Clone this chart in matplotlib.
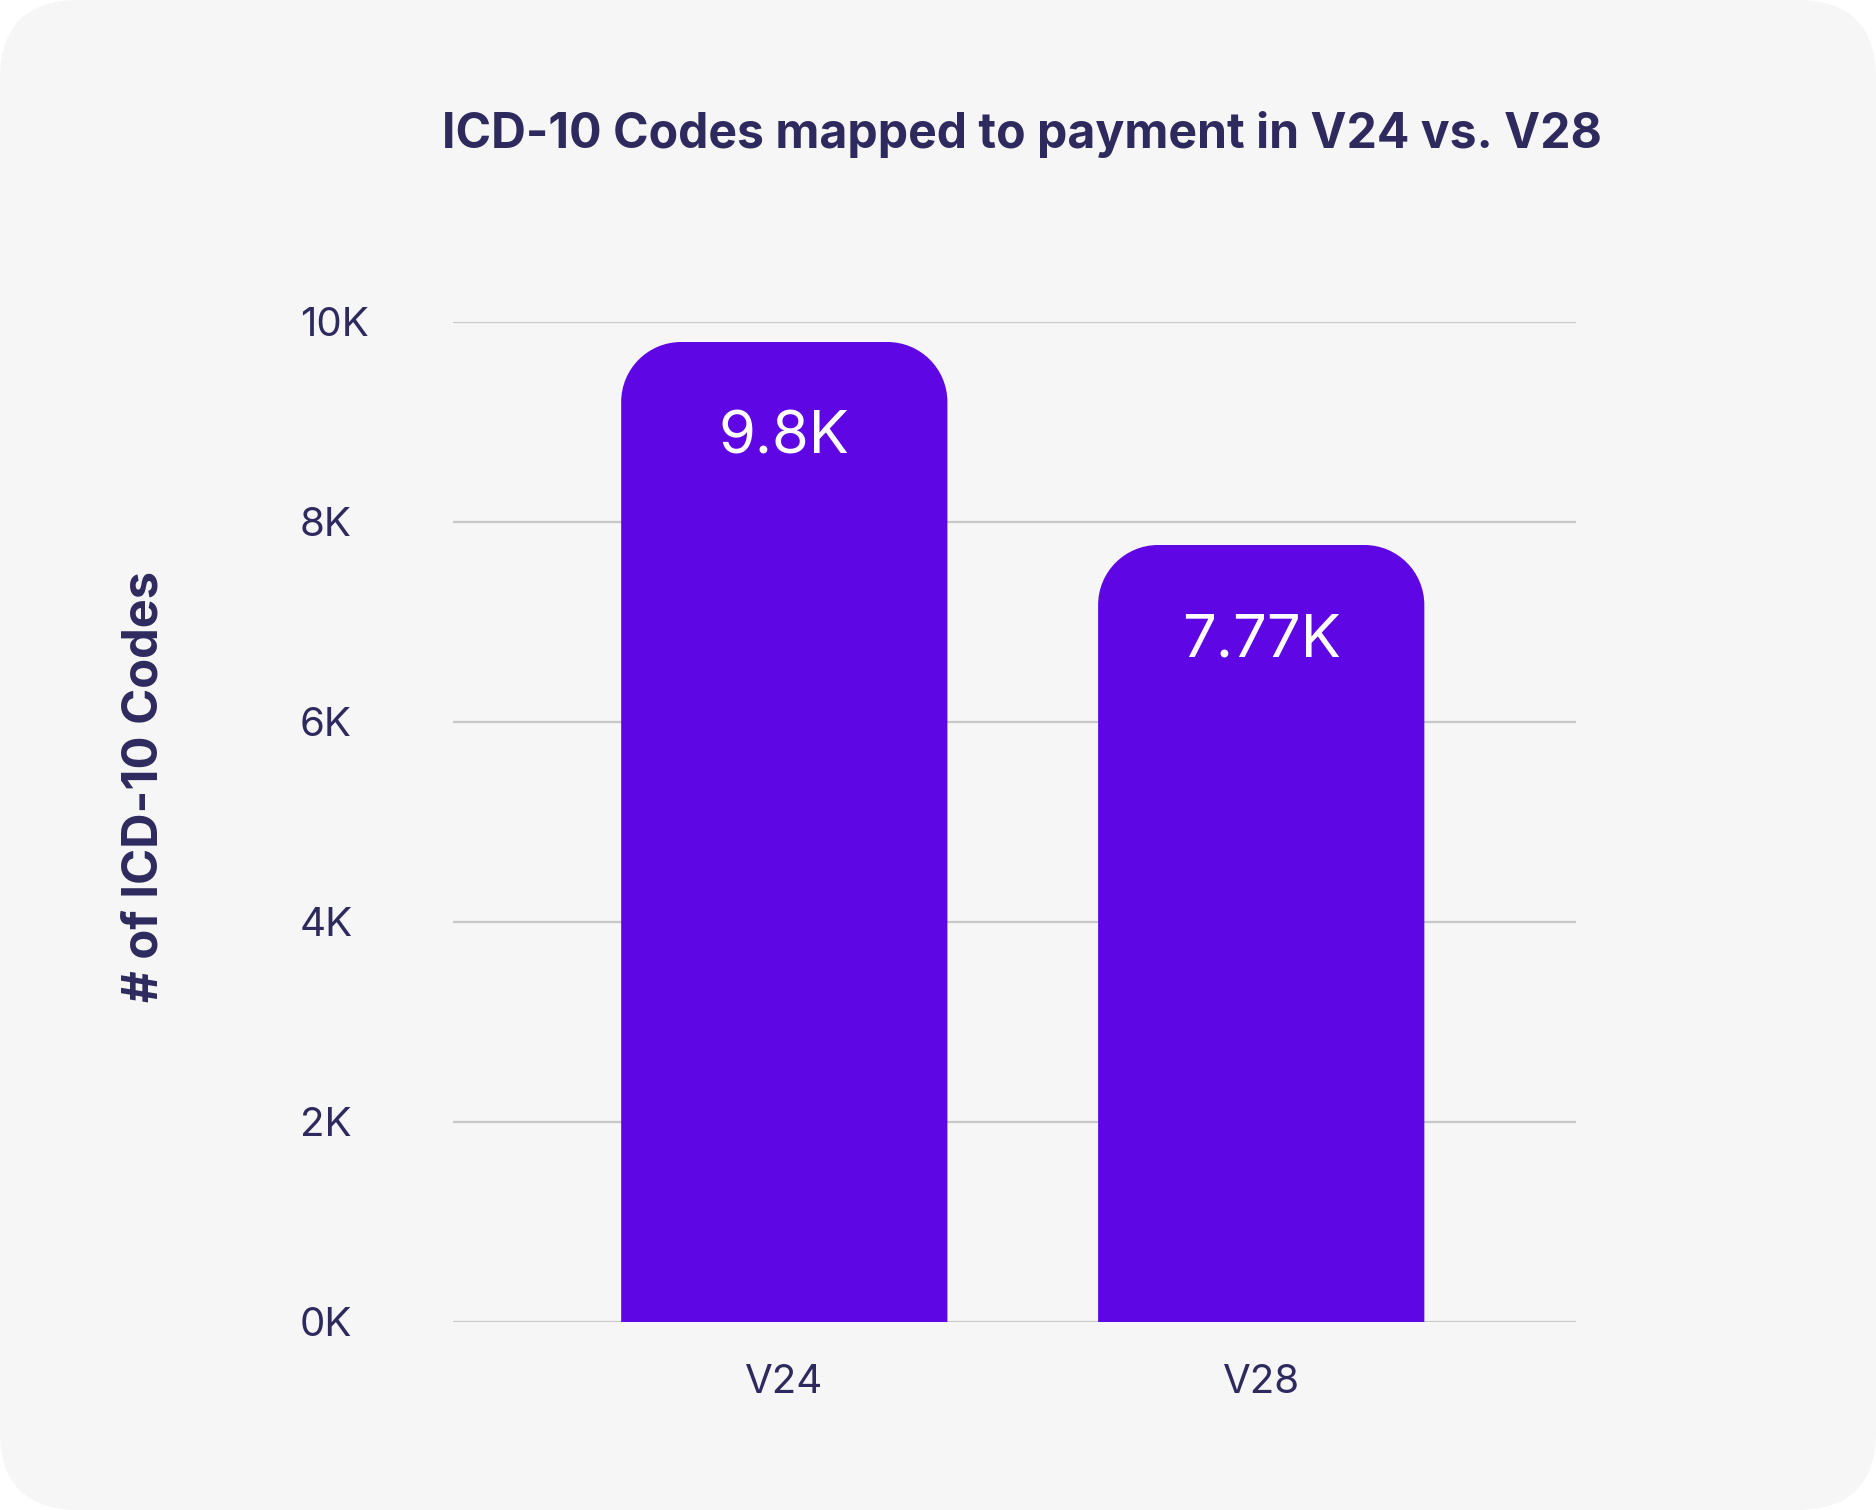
import matplotlib
matplotlib.use("Agg")
import matplotlib.pyplot as plt
from matplotlib.patches import FancyBboxPatch, PathPatch
from matplotlib.path import Path
import numpy as np

categories = ["V24", "V28"]
values = [9800, 7770]
value_labels = ["9.8K", "7.77K"]
yticks = [0, 2000, 4000, 6000, 8000, 10000]
ytick_labels = ["0K", "2K", "4K", "6K", "8K", "10K"]
title = "ICD-10 Codes mapped to payment in V24 vs. V28"
ylabel = "# of ICD-10 Codes"

TEXT = "#2e2a5e"
BAR = "#5f06e4"
BG = "#f6f6f6"
FONT = "Inter"

W, H = 1876, 1510
fig = plt.figure(figsize=(W / 100, H / 100), dpi=100)
fig.patch.set_facecolor("white")
bg = FancyBboxPatch((0.0, 0.0), 1.0, 1.0, transform=fig.transFigure,
                    boxstyle="round,pad=0,rounding_size=0.042",
                    mutation_aspect=W / H,
                    facecolor=BG, edgecolor="none", zorder=-10)
fig.patches.append(bg)

ax = fig.add_axes([453 / W, 188 / H, (1576 - 453) / W, (1322 - 322) / H])
ax.set_facecolor("none")
ax.set_xlim(-0.6946, 1.66)
ax.set_ylim(0, 10000)

bw = 0.684
# corner radius in pixels converted to data units
rpx = 60
rx = rpx / (ax.get_position().width * W) * (ax.get_xlim()[1] - ax.get_xlim()[0])
ry = rpx / (ax.get_position().height * H) * (ax.get_ylim()[1] - ax.get_ylim()[0])

def rounded_top_bar(xc, width, height):
    x0, x1 = xc - width / 2, xc + width / 2
    k = 0.5523
    verts = [
        (x0, 0), (x0, height - ry),
        (x0, height - ry + k * ry), (x0 + rx - k * rx, height), (x0 + rx, height),
        (x1 - rx, height),
        (x1 - rx + k * rx, height), (x1, height - ry + k * ry), (x1, height - ry),
        (x1, 0), (x0, 0),
    ]
    codes = [Path.MOVETO, Path.LINETO,
             Path.CURVE4, Path.CURVE4, Path.CURVE4,
             Path.LINETO,
             Path.CURVE4, Path.CURVE4, Path.CURVE4,
             Path.LINETO, Path.CLOSEPOLY]
    return Path(verts, codes)

for i, (v, lab) in enumerate(zip(values, value_labels)):
    p = PathPatch(rounded_top_bar(i, bw, v), facecolor=BAR, edgecolor="none", zorder=3)
    ax.add_patch(p)
    ax.text(i, v - 960, lab, ha="center", va="center", color="white",
            fontsize=43, family=FONT, zorder=4)

for y in yticks:
    ax.axhline(y, color="#c8c8c8", lw=1.6, zorder=1)

for s in ax.spines.values():
    s.set_visible(False)
ax.set_yticks(yticks)
ax.set_yticklabels(ytick_labels)
ax.set_xticks(range(len(categories)))
ax.set_xticklabels(categories)
ax.tick_params(axis="both", length=0, labelsize=29, labelcolor=TEXT)
for t in ax.get_yticklabels():
    t.set_family(FONT)
    t.set_ha("left")
for t in ax.get_xticklabels():
    t.set_family(FONT)
ax.tick_params(axis="y", pad=(453 - 300) * 0.72)
ax.tick_params(axis="x", pad=30)

fig.text(1022 / W, 1 - 134 / H, title, ha="center", va="center",
         fontsize=34.7, fontweight="bold", color=TEXT, family=FONT)
fig.text(145 / W, 1 - 786 / H, ylabel, ha="center", va="center", rotation=90,
         fontsize=35.2, fontweight="bold", color=TEXT, family=FONT)

fig.savefig("out.png", dpi=100, facecolor=fig.get_facecolor())
